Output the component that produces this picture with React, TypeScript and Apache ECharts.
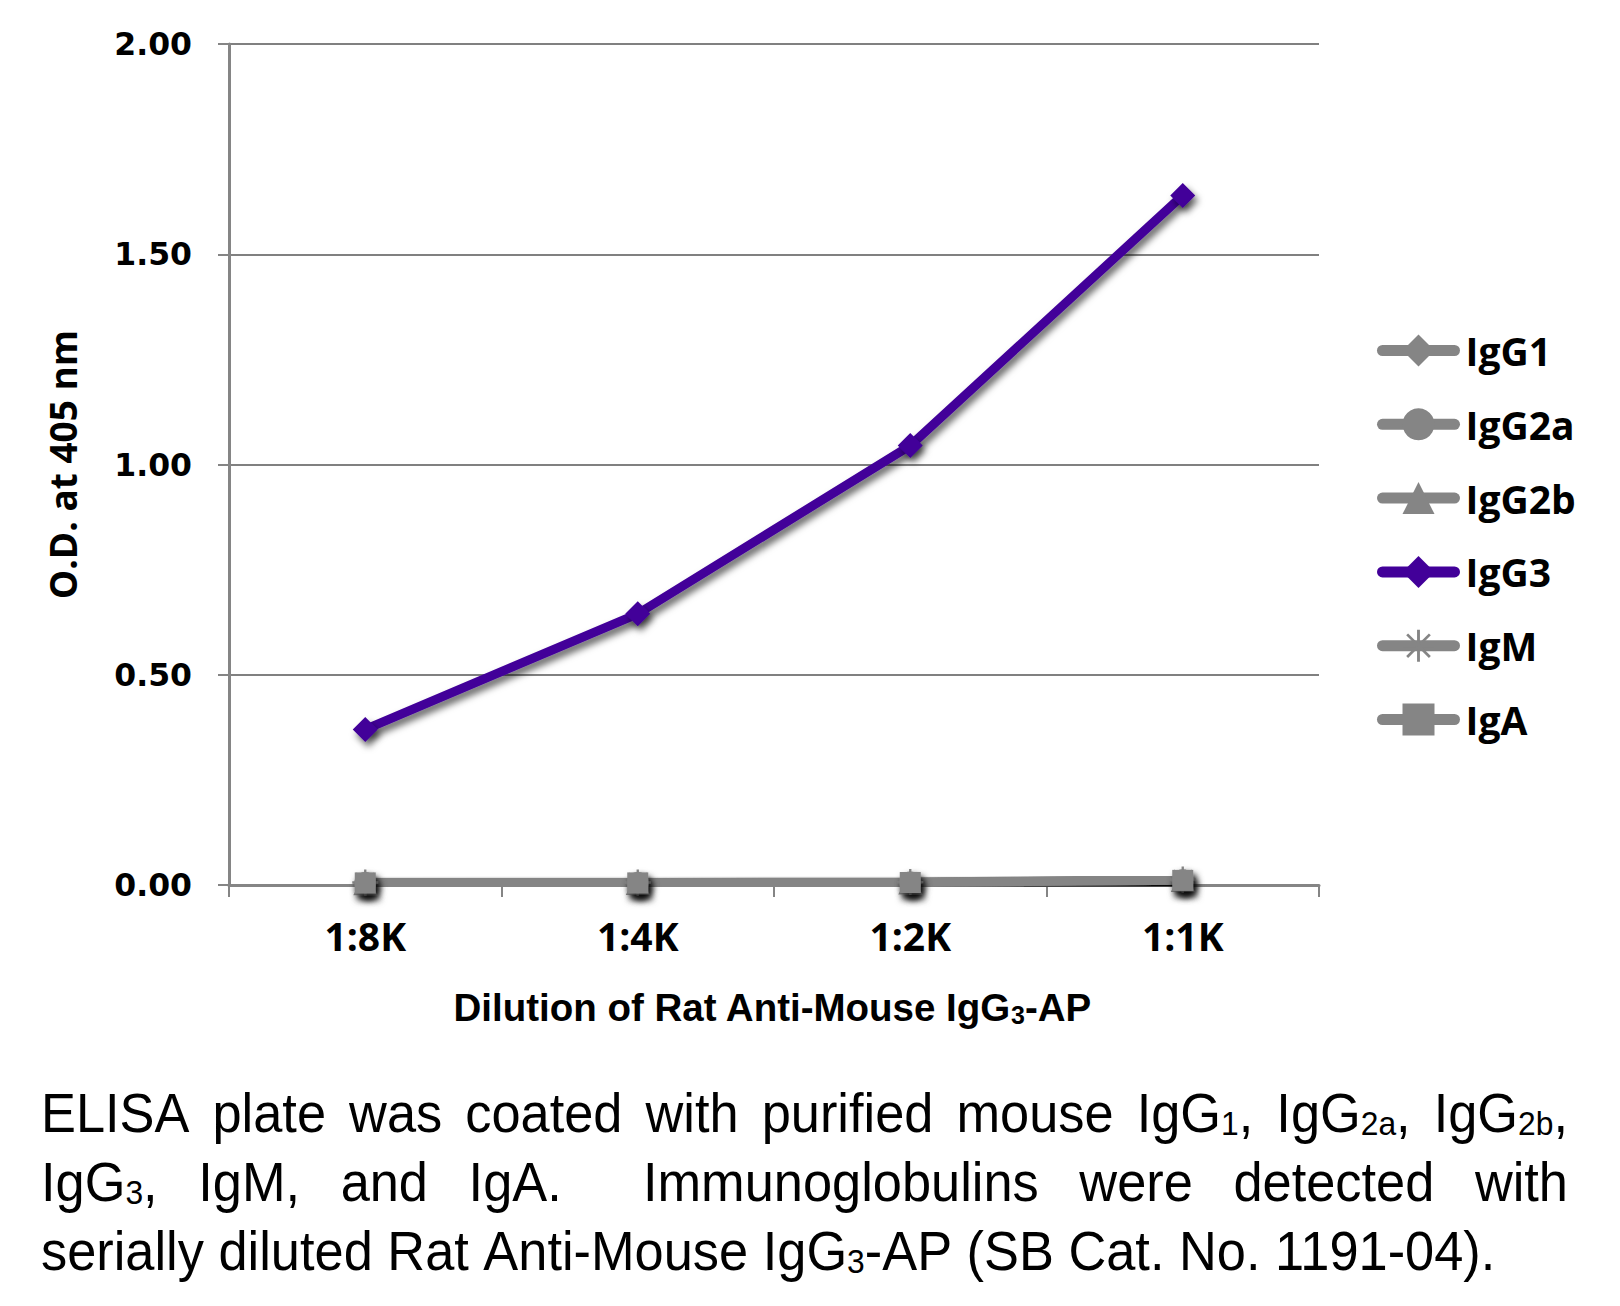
import React, { useEffect, useRef } from 'react';
import * as echarts from 'echarts';

const categories = ['1:8K', '1:4K', '1:2K', '1:1K'];
const yTickValues = [0, 0.5, 1, 1.5, 2];
const igG1 = [0.004, 0.004, 0.005, 0.010];
const igG2a = [0.005, 0.005, 0.006, 0.011];
const igG2b = [0.004, 0.005, 0.006, 0.012];
const igG3 = [0.37, 0.645, 1.045, 1.64];
const igM = [0.006, 0.006, 0.007, 0.013];
const igA = [0.005, 0.005, 0.006, 0.011];
const seriesNames = ['IgG1', 'IgG2a', 'IgG2b', 'IgG3', 'IgM', 'IgA'];
const yAxisTitle = 'O.D. at 405 nm';
const xAxisTitle = 'Dilution of Rat Anti-Mouse IgG{3}-AP';
const captionLines = [
  'ELISA plate was coated with purified mouse IgG{1}, IgG{2a}, IgG{2b},',
  'IgG{3}, IgM, and IgA.  Immunoglobulins were detected with',
  'serially diluted Rat Anti-Mouse IgG{3}-AP (SB Cat. No. 1191-04).',
];

const SANS = '"Liberation Sans", Arial, sans-serif';
const OPEN = '"Open Sans", "Noto Sans", sans-serif';
const GRAY = '#858585';
const PURPLE = '#420099';

const ASTERISK =
  'path://M-0.9,-10 L0.9,-10 L0.9,10 L-0.9,10 Z M-10,-0.9 L10,-0.9 L10,0.9 L-10,0.9 Z ' +
  'M-6.5,-7.7 L7.7,6.5 L6.5,7.7 L-7.7,-6.5 Z M-6.5,7.7 L7.7,-6.5 L6.5,-7.7 L-7.7,6.5 Z';

function parseSegments(w: string) {
  const out: { t: string; sub: boolean }[] = [];
  const re = /\{([^}]*)\}/g;
  let last = 0;
  let m: RegExpExecArray | null;
  while ((m = re.exec(w))) {
    if (m.index > last) out.push({ t: w.slice(last, m.index), sub: false });
    out.push({ t: m[1], sub: true });
    last = m.index + m[0].length;
  }
  if (last < w.length) out.push({ t: w.slice(last), sub: false });
  return out;
}

function toRich(w: string, main = 'm', sub = 's') {
  return parseSegments(w)
    .map((s) => `{${s.sub ? sub : main}|${s.t}}`)
    .join('');
}

export default function App() {
  const ref = useRef<HTMLDivElement>(null);
  useEffect(() => {
    document.body.style.margin = '0';
    const chart = echarts.init(ref.current!, null, { renderer: 'svg' });

    const CAP = 56;
    const CAPSUB = 34;
    const SX = 0.935;
    const canvas = document.createElement('canvas');
    const ctx = canvas.getContext('2d')!;
    const measure = (t: string, size: number) => {
      ctx.font = `normal ${size}px ${SANS}`;
      return ctx.measureText(t).width * SX;
    };
    const wordWidth = (w: string) =>
      parseSegments(w).reduce((a, s) => a + measure(s.t, s.sub ? CAPSUB : CAP), 0);

    const left = 41;
    const right = 1568;
    const lineY = [1110, 1179, 1248];
    const captionEls: any[] = [];
    captionLines.forEach((line, li) => {
      const parts = line.split(/(\s+)/);
      const words: string[] = [];
      const gapsW: number[] = [];
      parts.forEach((p) => {
        if (/^\s+$/.test(p)) gapsW.push(p.length);
        else if (p.length) words.push(p);
      });
      const widths = words.map(wordWidth);
      const total = widths.reduce((a, b) => a + b, 0);
      const justify = li < captionLines.length - 1;
      const units = gapsW.reduce((a, b) => a + b, 0);
      const unit = justify ? (right - left - total) / units : measure(' ', CAP);
      let x = left;
      words.forEach((w, i) => {
        captionEls.push({
          type: 'text',
          x,
          y: lineY[li],
          scaleX: SX,
          silent: true,
          style: {
            text: toRich(w),
            align: 'left',
            verticalAlign: 'middle',
            fill: '#000',
            rich: {
              m: { fontFamily: SANS, fontSize: CAP, fill: '#000', lineHeight: 60, verticalAlign: 'bottom' },
              s: { fontFamily: SANS, fontSize: CAPSUB, fill: '#000', lineHeight: 60, verticalAlign: 'bottom' },
            },
          },
        });
        x += widths[i] + unit * (gapsW[i] || 0);
      });
    });

    const xTitle = {
      type: 'text',
      x: 772,
      y: 1004,
      silent: true,
      style: {
        text: toRich(xAxisTitle, 'a', 'b'),
        align: 'center',
        verticalAlign: 'middle',
        fill: '#000',
        rich: {
          a: { fontFamily: SANS, fontWeight: 'bold', fontSize: 38.5, fill: '#000', lineHeight: 46, verticalAlign: 'bottom' },
          b: { fontFamily: SANS, fontWeight: 'bold', fontSize: 25, fill: '#000', lineHeight: 46, verticalAlign: 'bottom' },
        },
      },
    };

    const shadow = {
      shadowColor: 'rgba(0,0,0,0.6)',
      shadowBlur: 7,
      shadowOffsetX: 3,
      shadowOffsetY: 5,
    };
    const mk = (name: string, data: number[], symbol: string, color: string, size: number) => ({
      name,
      type: 'line',
      data,
      symbol,
      symbolSize: size,
      clip: false,
      lineStyle: { color, width: 9, ...shadow },
      itemStyle: { color, ...shadow },
      emphasis: { disabled: true },
    });

    const option: any = {
      animation: false,
      grid: { left: 229, top: 44, width: 1090, height: 841, containLabel: false },
      legend: {
        orient: 'vertical',
        left: 1372,
        top: 326,
        itemWidth: 72,
        itemHeight: 40,
        itemGap: 34.8,
        data: seriesNames,
        selectedMode: false,
        lineStyle: { width: 11, cap: 'round', shadowBlur: 0, shadowColor: 'rgba(0,0,0,0)', shadowOffsetX: 0, shadowOffsetY: 0 },
        itemStyle: { shadowBlur: 0, shadowColor: 'rgba(0,0,0,0)', shadowOffsetX: 0, shadowOffsetY: 0 },
        textStyle: { fontFamily: OPEN, fontWeight: 'bold', fontSize: 39, color: '#000', padding: [0, 0, 0, 6] },
      },
      xAxis: {
        type: 'category',
        data: categories,
        boundaryGap: true,
        axisLine: { lineStyle: { color: '#858585', width: 3 } },
        axisTick: { show: true, inside: false, length: 12, lineStyle: { color: '#858585', width: 2 } },
        axisLabel: { fontFamily: OPEN, fontWeight: 'bold', fontSize: 39, color: '#000', margin: 31 },
      },
      yAxis: {
        type: 'value',
        min: yTickValues[0],
        max: yTickValues[yTickValues.length - 1],
        interval: yTickValues[1] - yTickValues[0],
        axisLine: { show: true, lineStyle: { color: '#858585', width: 3 } },
        axisTick: { show: true, length: 11, lineStyle: { color: '#858585', width: 2 } },
        splitLine: { show: true, lineStyle: { color: '#808080', width: 2 } },
        axisLabel: {
          fontFamily: '"DejaVu Sans", sans-serif',
          fontWeight: 'bold',
          fontSize: 31.5,
          color: '#000',
          margin: 37,
          formatter: (v: number) => v.toFixed(2),
        },
        name: yAxisTitle,
        nameLocation: 'middle',
        nameRotate: 90,
        nameGap: 148,
        nameTextStyle: { fontFamily: OPEN, fontWeight: 'bold', fontSize: 37, color: '#000' },
      },
      series: [
        mk(seriesNames[0], igG1, 'diamond', GRAY, 24),
        mk(seriesNames[1], igG2a, 'circle', GRAY, 22),
        mk(seriesNames[2], igG2b, 'triangle', GRAY, 24),
        mk(seriesNames[3], igG3, 'diamond', PURPLE, 25),
        mk(seriesNames[4], igM, ASTERISK, GRAY, 26),
        mk(seriesNames[5], igA, 'rect', GRAY, 21),
      ],
      graphic: [...captionEls, xTitle],
    };
    chart.setOption(option);
    return () => chart.dispose();
  }, []);
  return <div ref={ref} style={{ width: 1620, height: 1306 }} />;
}
